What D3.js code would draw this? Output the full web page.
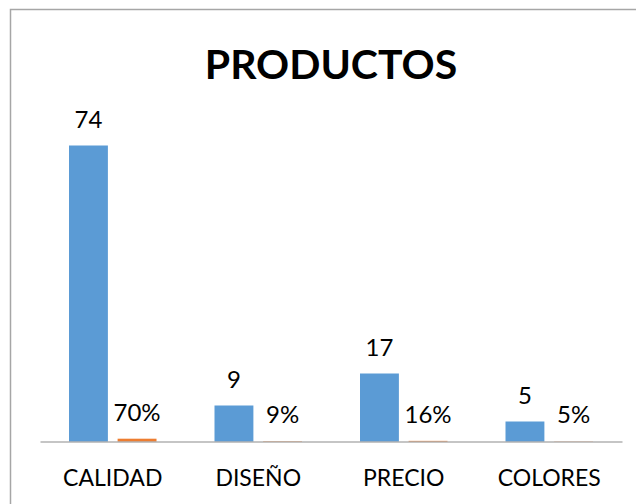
<!DOCTYPE html>
<html>
<head>
<meta charset="utf-8">
<script src="https://cdn.jsdelivr.net/npm/d3@7"></script>
<style>
  body { margin: 0; background: #fff; }
  text { font-family: Lato, "Open Sans", sans-serif; fill: #000; }
</style>
</head>
<body>
<div class="chart"></div>
<script>
// chart data
var categories = ['CALIDAD', 'DISEÑO', 'PRECIO', 'COLORES'];
var counts = [74, 9, 17, 5];
var percents = [0.70, 0.09, 0.16, 0.05];
var countLabels = ['74', '9', '17', '5'];
var percentLabels = ['70%', '9%', '16%', '5%'];
var seriesNames = ['count', 'pct'];

var width = 636;
var height = 504;

var svg = d3.select('.chart').append('svg')
    .attr('width', width)
    .attr('height', height);

// chart frame (only top/left edges show)
svg.append('path')
    .attr('d', 'M10.5,504 L10.5,9.5 L636,9.5')
    .attr('fill', 'none')
    .attr('stroke', '#a6a6a6')
    .attr('stroke-width', 1.5);

svg.append('text')
    .attr('x', 331)
    .attr('y', 79)
    .attr('text-anchor', 'middle')
    .style('font-size', '41px')
    .style('font-weight', 'bold')
    .text('PRODUCTOS');

var x = d3.scaleBand().domain(categories).range([40, 622]);
var x1 = d3.scaleBand().domain(seriesNames).range([29, 116.5]).paddingInner(0.2);
var y = d3.scaleLinear().domain([0, 80]).range([441.5, 121.5]);

var rows = categories.map(function (c, i) {
  return [
    {cat: c, s: 'count', v: counts[i], label: countLabels[i]},
    {cat: c, s: 'pct', v: percents[i], label: percentLabels[i]}
  ];
});
var flat = d3.merge(rows);
var colors = {count: '#5b9bd5', pct: '#ed7d31'};

svg.selectAll('.bar')
    .data(flat)
  .enter().append('rect')
    .attr('class', 'bar')
    .attr('x', function (d) { return x(d.cat) + x1(d.s); })
    .attr('width', x1.bandwidth())
    .attr('y', function (d) { return y(d.v); })
    .attr('height', function (d) { return y(0) - y(d.v); })
    .style('fill', function (d) { return colors[d.s]; });

svg.selectAll('.lbl')
    .data(flat)
  .enter().append('text')
    .attr('class', 'lbl')
    .attr('x', function (d) { return x(d.cat) + x1(d.s) + x1.bandwidth() / 2; })
    .attr('y', function (d) { return y(d.v) - 18; })
    .attr('text-anchor', 'middle')
    .style('font-size', '24px')
    .text(function (d) { return d.label; });

// category axis
var xAxis = d3.axisBottom(x).tickSize(0).tickPadding(28);
var g = svg.append('g')
    .attr('transform', 'translate(0,' + y(0) + ')')
    .call(xAxis);
g.select('.domain').attr('stroke', '#8c8c8c').attr('stroke-width', 1.2);
g.selectAll('.tick text')
    .style('font-size', '23px')
    .style('font-family', 'Lato, sans-serif')
    .attr('fill', '#000');
</script>
</body>
</html>
